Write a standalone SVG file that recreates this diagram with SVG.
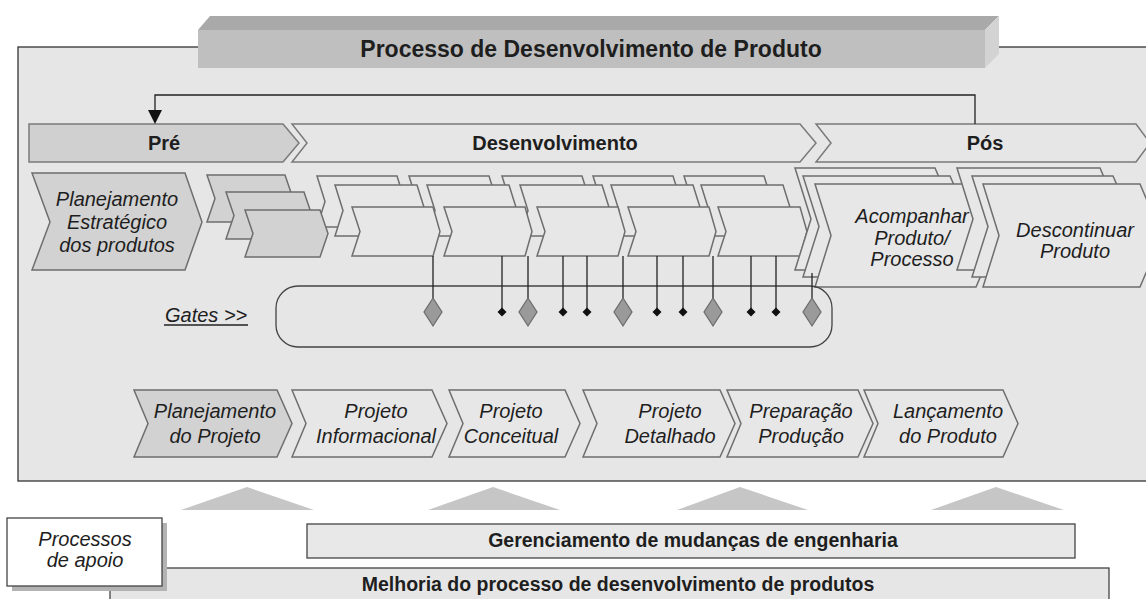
<svg xmlns="http://www.w3.org/2000/svg" width="1146" height="599" viewBox="0 0 1146 599">
<defs>
<style>
.t{font-family:'Liberation Sans',Arial,sans-serif;fill:#1e1e1e}
.b{font-weight:bold}
.i{font-style:italic}
.hdr{fill:#e6e6e6;stroke:#7a7a7a;stroke-width:1.5}
.hdrg{fill:#d0d0d0;stroke:#7a7a7a;stroke-width:1.5}
.cw{fill:#e7e7e7;stroke:#6e6e6e;stroke-width:1.5}
.cg{fill:#d2d2d2;stroke:#6e6e6e;stroke-width:1.5}
.ln{stroke:#222;stroke-width:1.3;fill:none}
.dg{fill:#9a9a9a;stroke:#6a6a6a;stroke-width:1.2}
.dk{fill:#111}
.tri{fill:#c6c6c6}
</style>
</defs>

<rect width="1146" height="599" fill="#ffffff"/>

<!-- main panel -->
<g id="panel">
<rect x="18" y="47" width="1135" height="434" fill="#e6e6e6" stroke="#333" stroke-width="1.3"/>
</g>

<!-- title bar -->
<g id="title">
<polygon points="198,30 210,16 999,16 985,30" fill="#a9a9a9"/>
<polygon points="985,30 999,16 999,54 985,68" fill="#d3d3d3"/>
<rect x="198" y="30" width="787" height="38" fill="#bfbfbf"/>
<text class="t b" x="591" y="57" font-size="23" text-anchor="middle">Processo de Desenvolvimento de Produto</text>
</g>

<!-- phase headers -->
<g id="phase-pre">
<polygon class="hdrg" points="29,124 283,124 299,143 283,162 29,162"/>
<text class="t b" x="164" y="150" font-size="20" text-anchor="middle">Pré</text>
</g>
<g id="phase-desenv">
<polygon class="hdr" points="292,124 800,124 816,143 800,162 292,162 307,143"/>
<text class="t b" x="555" y="150" font-size="20" text-anchor="middle">Desenvolvimento</text>
</g>
<g id="phase-pos">
<polygon class="hdr" points="816,124 1136,124 1150,143 1136,162 816,162 831,143"/>
<text class="t b" x="985" y="150" font-size="20" text-anchor="middle">Pós</text>
</g>

<!-- Planejamento estrategico -->
<g id="plan-estrategico">
<polygon class="cg" points="32,173 185,173 202,222 185,270 32,270 50,222"/>
<text class="t i" x="117" y="206" font-size="20" text-anchor="middle">Planejamento</text>
<text class="t i" x="117" y="229" font-size="20" text-anchor="middle">Estratégico</text>
<text class="t i" x="117" y="252" font-size="20" text-anchor="middle">dos produtos</text>
</g>

<!-- Desenvolvimento stacks: backs -->
<g id="dev-back">
<polygon class="cw" points="317,176 397,176 405,201.5 397,227 317,227 325,201.5"/>
<polygon class="cw" points="409,176 489,176 497,201.5 489,227 409,227 417,201.5"/>
<polygon class="cw" points="502,176 582,176 590,201.5 582,227 502,227 510,201.5"/>
<polygon class="cw" points="593,176 673,176 681,201.5 673,227 593,227 601,201.5"/>
<polygon class="cw" points="684,176 764,176 772,201.5 764,227 684,227 692,201.5"/>
</g>
<g id="dev-mid">
<polygon class="cw" points="335,185 417,185 425,210.5 417,236 335,236 343,210.5"/>
<polygon class="cw" points="427,185 509,185 517,210.5 509,236 427,236 435,210.5"/>
<polygon class="cw" points="520,185 602,185 610,210.5 602,236 520,236 528,210.5"/>
<polygon class="cw" points="611,185 693,185 701,210.5 693,236 611,236 619,210.5"/>
<polygon class="cw" points="701,185 783,185 791,210.5 783,236 701,236 709,210.5"/>
</g>

<!-- Pre stacks (gray) -->
<g id="pre-stack">
<polygon class="cg" points="207,175 285,175 293,198.5 285,222 207,222 215,198.5"/>
<polygon class="cg" points="226,192 304,192 312,215.5 304,239 226,239 234,215.5"/>
<polygon class="cg" points="245,210 320,210 328,233.5 320,257 245,257 253,233.5"/>
</g>

<g id="dev-front">
<polygon class="cw" points="352,207 433,207 440,231.5 433,256 352,256 360,231.5"/>
<polygon class="cw" points="444,207 525,207 532,231.5 525,256 444,256 452,231.5"/>
<polygon class="cw" points="537,207 618,207 625,231.5 618,256 537,256 545,231.5"/>
<polygon class="cw" points="628,207 709,207 716,231.5 709,256 628,256 636,231.5"/>
<polygon class="cw" points="718,207 800,207 807,231.5 800,256 718,256 726,231.5"/>
</g>

<!-- Pos stacks -->
<g id="acompanhar">
<polygon class="cw" points="795,168 935,168 957,219 935,270 795,270 811,219"/>
<polygon class="cw" points="803,176 950,176 972,226.5 950,277 803,277 819,226.5"/>
<polygon class="cw" points="815,184 976,184 998,235.5 976,287 815,287 831,235.5"/>
<text class="t i" x="912" y="223" font-size="20" text-anchor="middle">Acompanhar</text>
<text class="t i" x="912" y="245" font-size="20" text-anchor="middle">Produto/</text>
<text class="t i" x="912" y="266" font-size="20" text-anchor="middle">Processo</text>
</g>
<g id="descontinuar">
<polygon class="cw" points="957,168 1100,168 1122,219 1100,270 957,270 973,219"/>
<polygon class="cw" points="972,176 1113,176 1135,226.5 1113,277 972,277 988,226.5"/>
<polygon class="cw" points="983,184 1140,184 1162,235.5 1140,287 983,287 999,235.5"/>
<text class="t i" x="1075" y="237" font-size="20" text-anchor="middle">Descontinuar</text>
<text class="t i" x="1075" y="258" font-size="20" text-anchor="middle">Produto</text>
</g>

<!-- Gates -->
<g id="gates">
<rect x="276" y="286" width="556" height="61" rx="22" ry="22" fill="none" stroke="#444" stroke-width="1.3"/>
<text class="t i" x="165" y="322" font-size="20">Gates &gt;&gt;</text>
<line x1="164" y1="325" x2="248" y2="325" stroke="#222" stroke-width="1.4"/>
</g>

<!-- connectors -->
<g id="connectors">
<path class="ln" d="M975,124 V95 H155 V111"/>
<polygon points="148,110 162,110 155,124" fill="#111"/>
<line class="ln" x1="433" y1="256" x2="433" y2="298"/>
<line class="ln" x1="502" y1="256" x2="502" y2="312"/>
<line class="ln" x1="528" y1="256" x2="528" y2="298"/>
<line class="ln" x1="563" y1="256" x2="563" y2="312"/>
<line class="ln" x1="587" y1="256" x2="587" y2="312"/>
<line class="ln" x1="623" y1="256" x2="623" y2="298"/>
<line class="ln" x1="657" y1="256" x2="657" y2="312"/>
<line class="ln" x1="683" y1="256" x2="683" y2="312"/>
<line class="ln" x1="713" y1="256" x2="713" y2="298"/>
<line class="ln" x1="751" y1="256" x2="751" y2="312"/>
<line class="ln" x1="776" y1="256" x2="776" y2="312"/>
<line class="ln" x1="812" y1="273" x2="812" y2="298"/>
</g>

<g id="gate-markers">
<polygon class="dg" points="433,298 442,312 433,326 424,312"/>
<polygon class="dg" points="528,298 537,312 528,326 519,312"/>
<polygon class="dg" points="623,298 632,312 623,326 614,312"/>
<polygon class="dg" points="713,298 722,312 713,326 704,312"/>
<polygon class="dg" points="812,298 821,312 812,326 803,312"/>
<polygon class="dk" points="502,307.5 506.5,312 502,316.5 497.5,312"/>
<polygon class="dk" points="563,307.5 567.5,312 563,316.5 558.5,312"/>
<polygon class="dk" points="587,307.5 591.5,312 587,316.5 582.5,312"/>
<polygon class="dk" points="657,307.5 661.5,312 657,316.5 652.5,312"/>
<polygon class="dk" points="683,307.5 687.5,312 683,316.5 678.5,312"/>
<polygon class="dk" points="751,307.5 755.5,312 751,316.5 746.5,312"/>
<polygon class="dk" points="776,307.5 780.5,312 776,316.5 771.5,312"/>
</g>

<!-- bottom phases -->
<g id="planejamento-projeto">
<polygon class="cg" points="134,390 277,390 292,423.5 277,457 134,457 148,423.5"/>
<text class="t i" x="215" y="418" font-size="20" text-anchor="middle">Planejamento</text>
<text class="t i" x="215" y="443" font-size="20" text-anchor="middle">do Projeto</text>
</g>
<g id="projeto-informacional">
<polygon class="cw" points="292,390 432,390 447,423.5 432,457 292,457 306,423.5"/>
<text class="t i" x="376" y="418" font-size="20" text-anchor="middle">Projeto</text>
<text class="t i" x="376" y="443" font-size="20" text-anchor="middle">Informacional</text>
</g>
<g id="projeto-conceitual">
<polygon class="cw" points="449,390 565,390 580,423.5 565,457 449,457 463,423.5"/>
<text class="t i" x="511" y="418" font-size="20" text-anchor="middle">Projeto</text>
<text class="t i" x="511" y="443" font-size="20" text-anchor="middle">Conceitual</text>
</g>
<g id="projeto-detalhado">
<polygon class="cw" points="583,390 720,390 735,423.5 720,457 583,457 597,423.5"/>
<text class="t i" x="670" y="418" font-size="20" text-anchor="middle">Projeto</text>
<text class="t i" x="670" y="443" font-size="20" text-anchor="middle">Detalhado</text>
</g>
<g id="preparacao-producao">
<polygon class="cw" points="727,390 858,390 873,423.5 858,457 727,457 741,423.5"/>
<text class="t i" x="801" y="418" font-size="20" text-anchor="middle">Preparação</text>
<text class="t i" x="801" y="443" font-size="20" text-anchor="middle">Produção</text>
</g>
<g id="lancamento-produto">
<polygon class="cw" points="864,390 1003,390 1018,423.5 1003,457 864,457 878,423.5"/>
<text class="t i" x="948" y="418" font-size="20" text-anchor="middle">Lançamento</text>
<text class="t i" x="948" y="443" font-size="20" text-anchor="middle">do Produto</text>
</g>

<!-- support arrows -->
<g id="support-arrows">
<polygon class="tri" points="181,510 247,487 314,510"/>
<polygon class="tri" points="428,510 493,487 560,510"/>
<polygon class="tri" points="677,510 740,487 808,510"/>
<polygon class="tri" points="931,510 996,487 1064,510"/>
</g>

<!-- support processes -->
<g id="melhoria">
<rect x="110" y="568" width="999" height="40" fill="#e6e6e6" stroke="#444" stroke-width="1.3"/>
<text class="t b" x="618" y="591" font-size="19.5" text-anchor="middle">Melhoria do processo de desenvolvimento de produtos</text>
</g>
<g id="gerenciamento">
<rect x="307" y="524" width="768" height="34" fill="#e8e8e8" stroke="#444" stroke-width="1.3"/>
<text class="t b" x="693" y="547" font-size="19.5" text-anchor="middle">Gerenciamento de mudanças de engenharia</text>
</g>
<g id="processos-apoio">
<rect x="12" y="523" width="155" height="68" fill="#b3b3b3"/>
<rect x="7" y="518" width="155" height="68" fill="#ffffff" stroke="#444" stroke-width="1.3"/>
<text class="t i" x="85" y="546" font-size="20" text-anchor="middle">Processos</text>
<text class="t i" x="85" y="567" font-size="20" text-anchor="middle">de apoio</text>
</g>
</svg>
